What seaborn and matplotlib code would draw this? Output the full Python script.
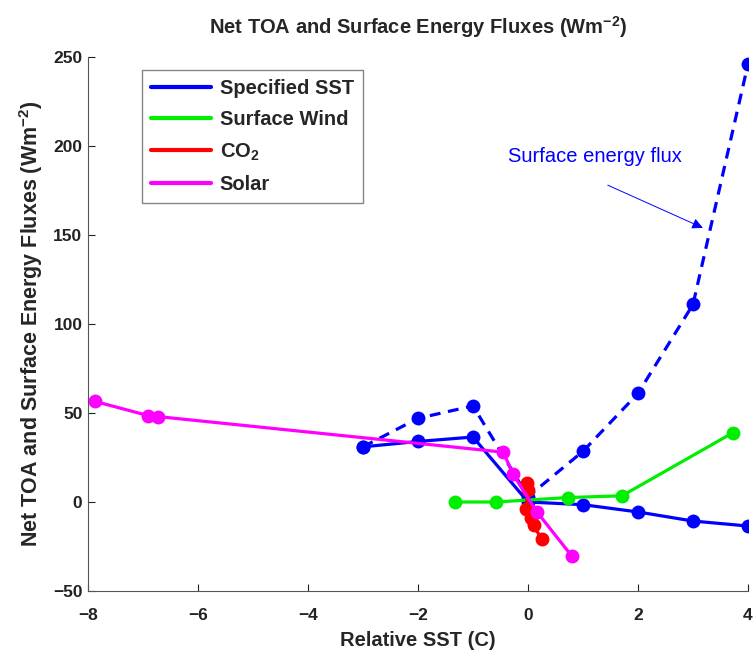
import numpy as np
import pandas as pd
import matplotlib
matplotlib.use('Agg')
import matplotlib.pyplot as plt
from matplotlib.lines import Line2D
import seaborn as sns

# values
sst_x = [-3, -2, -1, 0, 1, 2, 3, 4]
sst_toa = [31, 34, 36.5, 0, -1.5, -5.6, -10.7, -13.5]
sst_sfc = [31, 47, 54, 3, 28.5, 61, 111, 246]

wind_x = [-1.33, -0.58, 0.73, 1.71, 3.73]
wind_y = [0, 0, 2.5, 3.5, 39]

co2_x = [-0.02, 0.0, -0.04, 0.06, 0.1, 0.25]
co2_y = [10.5, 7, -4, -9, -13, -21]

solar_x = [-7.87, -6.9, -6.73, -0.45, -0.27, 0.16, 0.8]
solar_y = [56.5, 48.5, 48, 28, 15.5, -5.5, -30.5]

series_names = ['Specified SST', 'Surface Wind', 'CO$_2$', 'Solar']
colors = ['#0000ff', '#00ee00', '#ff0000', '#ff00ff']

sns.set_style('ticks')
plt.rcParams['font.family'] = ['Liberation Sans', 'DejaVu Sans']
plt.rcParams['font.weight'] = 'bold'
plt.rcParams['mathtext.fontset'] = 'custom'
plt.rcParams['mathtext.rm'] = 'Liberation Sans:bold'
plt.rcParams['mathtext.bf'] = 'Liberation Sans:bold'
plt.rcParams['mathtext.default'] = 'bf'

fig = plt.figure(figsize=(7.55, 6.51), dpi=100)
ax = fig.add_axes([88 / 755, 1 - 591 / 651, 660 / 755, 534 / 651])

lw = 2.3
ms = 10

sns.lineplot(x=sst_x, y=sst_sfc, ax=ax, color=colors[0], lw=lw,
             marker='o', markersize=ms, markeredgewidth=0, sort=False)
sns.lineplot(x=sst_x, y=sst_toa, ax=ax, color=colors[0], lw=lw,
             marker='o', markersize=ms, markeredgewidth=0, sort=False)
sns.lineplot(x=wind_x, y=wind_y, ax=ax, color=colors[1], lw=lw,
             marker='o', markersize=ms, markeredgewidth=0, sort=False)
sns.lineplot(x=co2_x, y=co2_y, ax=ax, color=colors[2], lw=lw,
             marker='o', markersize=ms, markeredgewidth=0, sort=False)
sns.lineplot(x=solar_x, y=solar_y, ax=ax, color=colors[3], lw=lw,
             marker='o', markersize=ms, markeredgewidth=0, sort=False)
ax.lines[0].set_linestyle((0, (3.4, 2.4)))

ax.set_xlim(-8, 4)
ax.set_ylim(-50, 250)
ax.set_xticks(np.arange(-8, 5, 2))
ax.set_yticks(np.arange(-50, 251, 50))
ax.tick_params(direction='in', length=5, width=0.8, labelsize=12.5, colors='#222222')
ax.tick_params(axis='x', pad=12)
ax.tick_params(axis='y', pad=4)
for lab in ax.get_xticklabels() + ax.get_yticklabels():
    lab.set_fontweight('bold')
sns.despine(ax=ax)
for s in ['left', 'bottom']:
    ax.spines[s].set_color('#555555')
    ax.spines[s].set_linewidth(0.8)

ax.set_xlabel('Relative SST (C)', fontsize=14.5, fontweight='bold', labelpad=6)
ax.set_ylabel('Net TOA and Surface Energy Fluxes (Wm$^{-2}$)', fontsize=15.5,
              fontweight='bold', labelpad=6)
ax.set_title('Net TOA and Surface Energy Fluxes (Wm$^{-2}$)', fontsize=14.5,
             fontweight='bold', pad=17)

ax.text(-0.36, 194, 'Surface energy flux', color=colors[0], fontsize=14.5,
        fontweight='normal', ha='left', va='center')
ax.annotate('', xy=(3.18, 154), xytext=(1.45, 178),
            arrowprops=dict(arrowstyle='-|>', color=colors[0], lw=0.7,
                            shrinkA=0, shrinkB=0, mutation_scale=16))

handles = [Line2D([0], [0], color=c, lw=3) for c in colors]
leg = ax.legend(handles, series_names, loc='upper left',
                bbox_to_anchor=(54 / 660, 1 - 13 / 534), fontsize=14.5,
                frameon=True, fancybox=False, edgecolor='#666666',
                handlelength=3.0, handletextpad=0.4, borderpad=0.45,
                labelspacing=0.6, borderaxespad=0)
leg.get_frame().set_linewidth(1.0)
for t in leg.get_texts():
    t.set_fontweight('bold')

fig.savefig('out.png', dpi=100)
